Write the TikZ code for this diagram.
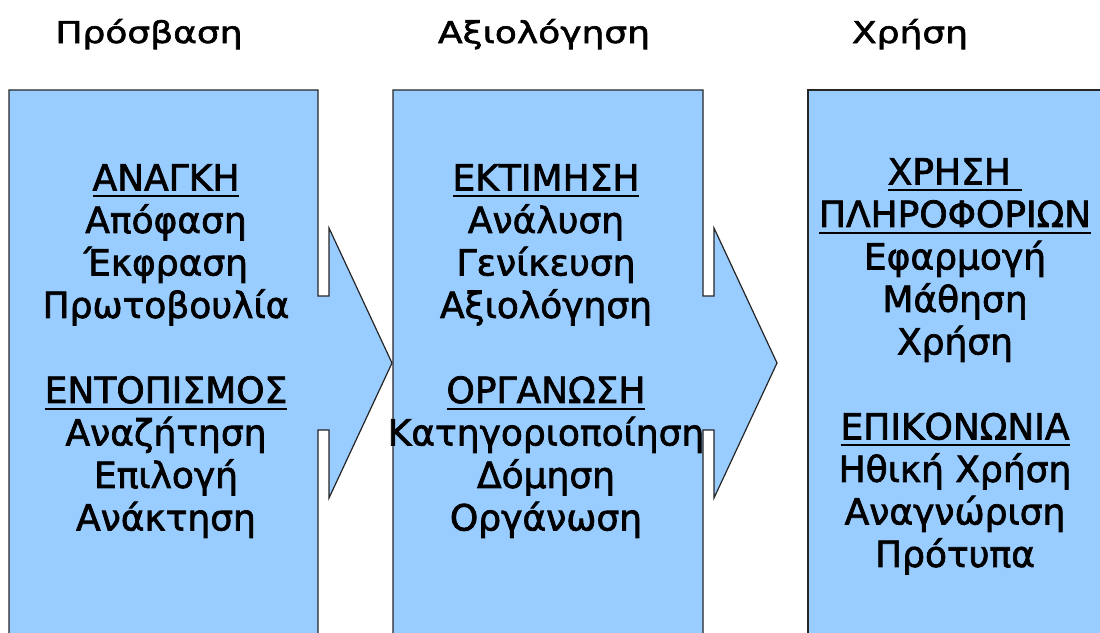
\documentclass[tikz,border=0pt]{standalone}
\usepackage{fontspec}
\setmainfont[FakeBold=2]{DejaVu Sans}
\newfontfamily\headfont[FakeStretch=1.2, FakeBold=2]{DejaVu Sans}
\usepackage{tikz}

\definecolor{boxblue}{HTML}{99CCFF}
\newcommand\ulword[1]{\setbox0\hbox{#1}\rlap{\rule[-7pt]{\wd0}{2.2pt}}\box0}

\begin{document}
\begin{tikzpicture}[x=1pt, y=-1pt,
    stage/.style={fill=boxblue, draw=black!85, line width=1.2pt, line join=miter},
    steps/.style={align=center, inner sep=0pt, anchor=north, font=\fontsize{36}{42.5}\selectfont},
    title/.style={anchor=base, inner sep=0pt, font=\headfont\fontsize{30}{36}\selectfont}]
    \useasboundingbox (0,0) rectangle (1100,632);
    \clip (0,0) rectangle (1100,632);
    % stage boxes with their arrows
    \draw[stage](9,650)--(9,90)--(318,90)--(318,296)--(329,296)--(329,228)--(392,363)
        --(329,498)--(329,430)--(318,430)--(318,650);
    \draw[stage](393,650)--(393,90)--(703,90)--(703,296)--(714,296)--(714,228)--(777,363)
        --(714,498)--(714,430)--(703,430)--(703,650);
    \draw[stage](808,650)--(808,90)--(1120,90)--(1120,650);
    % titles
    \node[title] (access) at (149,43) {Πρόσβαση};
    \node[title] (assess) at (544,43) {Αξιολόγηση};
    \node[title] (use) at (910,43) {Χρήση};
    % contents
    \node[steps] (need) at (166,164) {\ulword{ΑΝΑΓΚΗ}\\Απόφαση\\Έκφραση\\Πρωτοβουλία\\[42.5pt]
        \ulword{ΕΝΤΟΠΙΣΜΟΣ}\\Αναζήτηση\\Επιλογή\\Ανάκτηση};
    \node[steps] (estimate) at (546,164) {\ulword{ΕΚΤΙΜΗΣΗ}\\Ανάλυση\\Γενίκευση\\Αξιολόγηση\\[42.5pt]
        \ulword{ΟΡΓΑΝΩΣΗ}\\Κατηγοριοποίηση\\Δόμηση\\Οργάνωση};
    \node[steps] (infouse) at (955,158) {\ulword{ΧΡΗΣΗ\ }\\\ulword{ΠΛΗΡΟΦΟΡΙΩΝ}\\Εφαρμογή\\Μάθηση\\Χρήση\\[42.5pt]
        \ulword{ΕΠΙΚΟΝΩΝΙΑ}\\Ηθική Χρήση\\Αναγνώριση\\Πρότυπα};
\end{tikzpicture}
\end{document}
